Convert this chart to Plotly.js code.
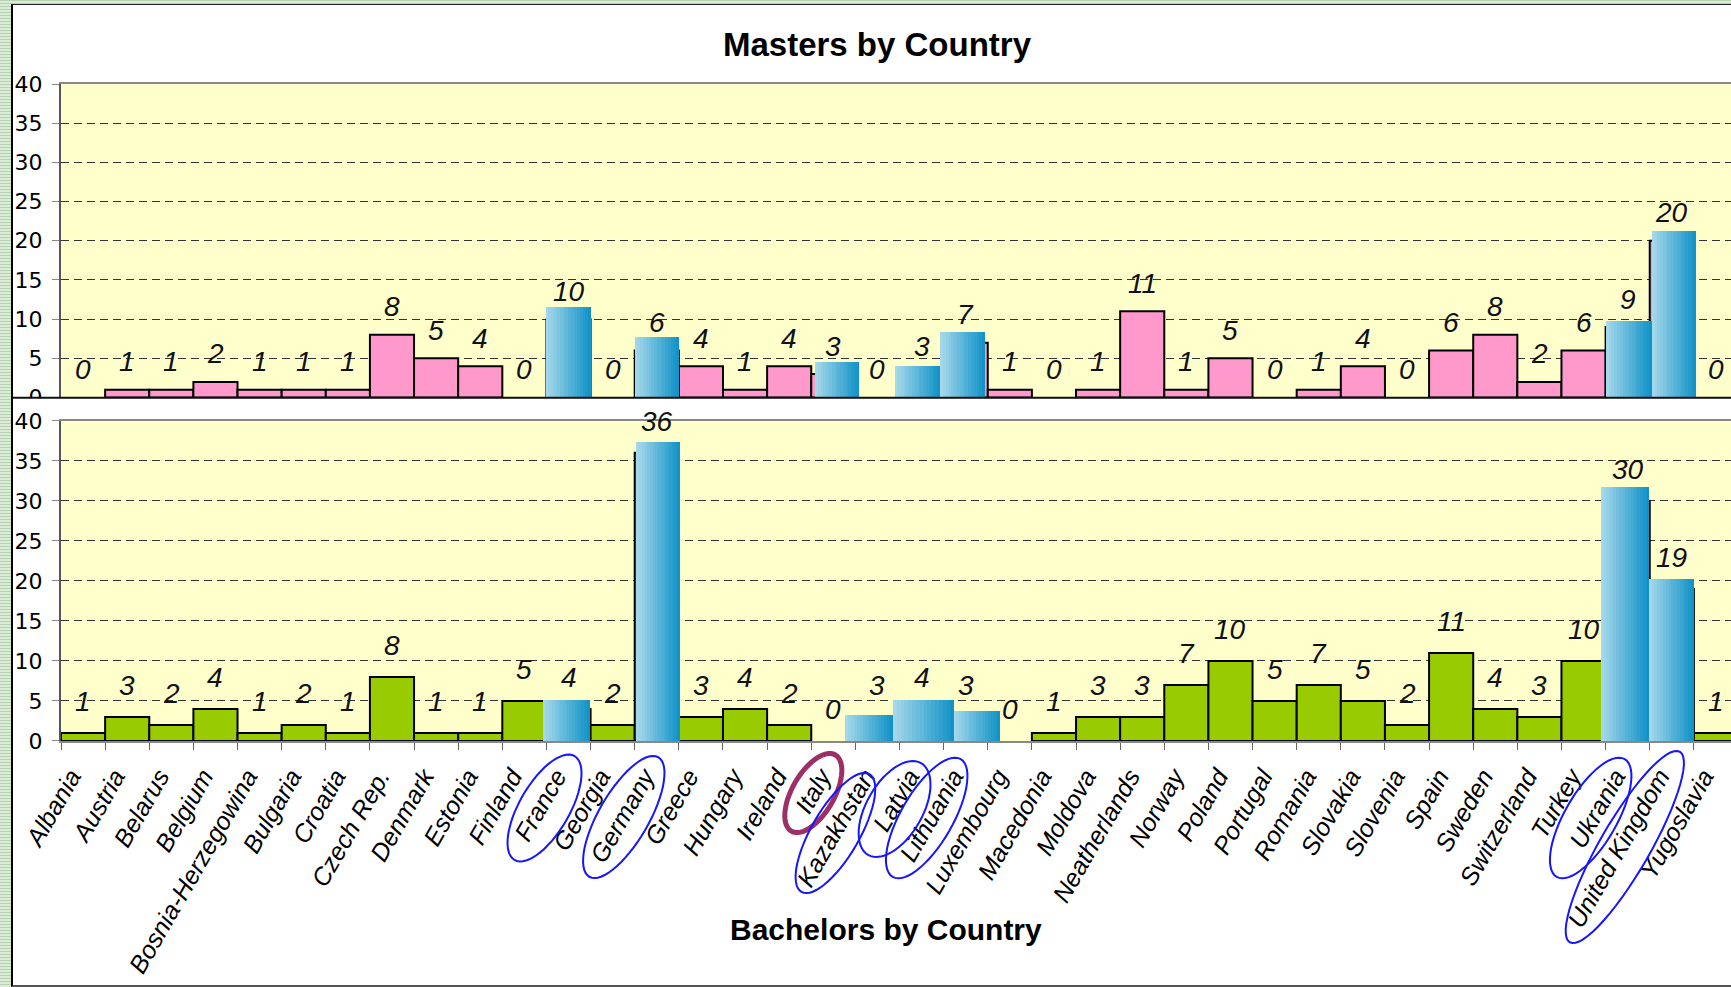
<!DOCTYPE html>
<html><head><meta charset="utf-8">
<script src="https://cdn.plot.ly/plotly-3.0.1.min.js"></script>
<style>
html,body{margin:0;padding:0;width:1731px;height:987px;overflow:hidden;}
body{background:repeating-linear-gradient(to bottom,#b6d3b1 0px,#b6d3b1 1px,#dcebd8 1px,#dcebd8 3px);}
#frame{position:absolute;left:11px;top:4px;width:1730px;height:980px;background:#fff;border-left:2px solid #000;border-top:1px solid #222;border-bottom:2px solid #555;}
#chart{position:absolute;left:0;top:0;width:1760px;height:987px;}
</style></head><body>
<div id="frame"></div><div id="chart"></div>
<script>
// ---------- data ----------
const countries = ['Albania','Austria','Belarus','Belgium','Bosnia-Herzegowina','Bulgaria','Croatia','Czech Rep.','Denmark','Estonia','Finland','France','Georgia','Germany','Greece','Hungary','Ireland','Italy','Kazakhstan','Latvia','Lithuania','Luxembourg','Macedonia','Moldova','Neatherlands','Norway','Poland','Portugal','Romania','Slovakia','Slovenia','Spain','Sweden','Switzerland','Turkey','Ukrania','United Kingdom','Yugoslavia'];
const masters   = [0,1,1,2,1,1,1,8,5,4,0,10,0,6,4,1,4,3,0,3,7,1,0,1,11,1,5,0,1,4,0,6,8,2,6,9,20,0];
const bachelors = [1,3,2,4,1,2,1,8,1,1,5,4,2,36,3,4,2,0,3,4,3,0,1,3,3,7,10,5,7,5,2,11,4,3,10,30,19,1];
// blue highlight blocks pasted over some bars (their visible heights)
const mastersHighlightCountries = ['France','Germany','Italy','Latvia','Lithuania','Ukrania','United Kingdom'];
const mastersHighlightHeights   = [11.5,7.7,4.5,4.0,8.3,9.8,21.3];
const bachelorsHighlightCountries = ['France','Germany','Kazakhstan','Latvia','Lithuania','Ukrania','United Kingdom'];
const bachelorsHighlightHeights   = [5.1,37.3,3.3,5.1,3.8,31.7,20.3];
const yTickVals = [0,5,10,15,20,25,30,35,40];
const circledCountries = ['France','Germany','Italy','Kazakhstan','Latvia','Lithuania','Ukrania','United Kingdom'];
const topTitle = 'Masters by Country';
const bottomTitle = 'Bachelors by Country';

// ---------- styles ----------
const overlayPlacement = {
  masters:   {'France':[-0.52,1.03],'Germany':[-0.5,1.0],'Italy':[-0.41,1.0],'Latvia':[-0.6,1.02],'Lithuania':[-0.58,1.02],'Ukrania':[-0.5,1.05],'United Kingdom':[-0.45,1.0]},
  bachelors: {'France':[-0.58,1.06],'Germany':[-0.46,0.98],'Kazakhstan':[-0.74,1.09],'Latvia':[-0.65,1.39],'Lithuania':[-0.29,1.06],'Ukrania':[-0.61,1.1],'United Kingdom':[-0.52,1.02]}
};
const ellipseStyle = {
  'France':        {dx:-24, dy:67,  a:60,  b:25, color:'#1515ff', w:2},
  'Germany':       {dx:-33, dy:76,  a:69,  b:25, color:'#1515ff', w:2},
  'Italy':         {dx:-20, dy:52,  a:44,  b:21, color:'#9c2f66', w:5},
  'Kazakhstan':    {dx:-42, dy:92,  a:68,  b:24, color:'#1515ff', w:2},
  'Latvia':        {dx:-27, dy:68,  a:53,  b:28, color:'#1515ff', w:2},
  'Lithuania':     {dx:-39, dy:77,  a:68,  b:26, color:'#1515ff', w:2},
  'Ukrania':       {dx:-37, dy:77,  a:68,  b:26, color:'#1515ff', w:2},
  'United Kingdom':{dx:-47, dy:106, a:110, b:25, color:'#1515ff', w:2}
};
const GRAD_N = 16, gradL = [168,218,236], gradR = [14,145,198];
const labelFont = {family:'Liberation Sans, Arial, sans-serif', size:28, style:'italic', color:'#111'};
const W = 1760, H = 987;
const mL = 61, catW = 44.14, mT = 84, mB = 245.7;
const plotR = mL + countries.length*catW;
const plotH = H - mT - mB;
const py = px => (H - mB - px)/plotH; // page pixel y -> paper fraction

// ---------- traces ----------
const traces = [];
traces.push({type:'bar', x:countries, y:masters, xaxis:'x', yaxis:'y', width:1, offset:-0.5,
  marker:{color:'#ff99cc', line:{color:'#000', width:masters.map(v=>v>0?2:0)}}, hoverinfo:'skip', showlegend:false});
traces.push({type:'bar', x:countries, y:bachelors, xaxis:'x2', yaxis:'y2', width:1, offset:-0.5,
  marker:{color:'#99cc00', line:{color:'#000', width:bachelors.map(v=>v>0?2:0)}}, hoverinfo:'skip', showlegend:false});

function gradientBars(names, heights, place, xa, ya){
  for(let i=0;i<GRAD_N;i++){
    const f=(i+0.5)/GRAD_N;
    const c=gradL.map((v,k)=>Math.round(v+(gradR[k]-v)*f));
    traces.push({type:'bar', x:names, y:heights, xaxis:xa, yaxis:ya,
      offset:names.map(n=>place[n][0]+place[n][1]*i/GRAD_N),
      width:names.map(n=>place[n][1]*(GRAD_N-i)/GRAD_N),
      marker:{color:`rgb(${c[0]},${c[1]},${c[2]})`, line:{width:0}}, hoverinfo:'skip', showlegend:false});
  }
}
gradientBars(mastersHighlightCountries, mastersHighlightHeights, overlayPlacement.masters, 'x', 'y');
gradientBars(bachelorsHighlightCountries, bachelorsHighlightHeights, overlayPlacement.bachelors, 'x2', 'y2');

// ---------- annotations ----------
const annotations = [];
countries.forEach((c,i)=>{
  annotations.push({xref:'x', yref:'y', x:c, y:masters[i], text:String(masters[i]), showarrow:false, yshift:28, font:labelFont});
  annotations.push({xref:'x2', yref:'y2', x:c, y:bachelors[i], text:String(bachelors[i]), showarrow:false, yshift:31, font:labelFont});
});
annotations.push({xref:'paper', yref:'paper', x:(886-mL)/(plotR-mL), y:py(930), xanchor:'center', yanchor:'middle',
  text:bottomTitle, showarrow:false, font:{family:'Liberation Sans, Arial, sans-serif', size:30, weight:700, color:'#000'}});

// ---------- shapes ----------
const shapes = [];
shapes.push({type:'rect', xref:'paper', yref:'paper', x0:(13-mL)/(plotR-mL), x1:1.05, y0:py(407), y1:py(398.5), fillcolor:'#fff', line:{width:0}, layer:'above'});
shapes.push({type:'line', xref:'paper', yref:'paper', x0:(13-mL)/(plotR-mL), x1:1.05, y0:py(398), y1:py(398), line:{color:'#111', width:2}, layer:'above'});
circledCountries.forEach(n=>{
  const s=ellipseStyle[n], th=60*Math.PI/180, pts=[];
  for(let k=0;k<=60;k++){
    const t=2*Math.PI*k/60, ex=s.a*Math.cos(t), ey=s.b*Math.sin(t);
    const X=s.dx+ex*Math.cos(th)-ey*Math.sin(th);
    const Y=-s.dy+ex*Math.sin(th)+ey*Math.cos(th);
    pts.push(X.toFixed(1)+','+Y.toFixed(1));
  }
  const idx=countries.indexOf(n);
  shapes.push({type:'path', xref:'paper', yref:'paper', xsizemode:'pixel', ysizemode:'pixel',
    xanchor:(idx+0.5)/countries.length, yanchor:0, path:'M'+pts.join('L')+'Z',
    line:{color:s.color, width:s.w}, layer:'above'});
});

// ---------- axes ----------
const yCommon = {range:[0,40], tickvals:yTickVals, showgrid:true, gridcolor:'#333', griddash:'8px,5px', gridwidth:1,
  zeroline:false, showline:true, linecolor:'#555', linewidth:2, ticks:'outside', ticklen:7, tickcolor:'#888', ticklabelstandoff:5,
  tickfont:{family:'DejaVu Sans, Liberation Sans, sans-serif', size:22, color:'#000'}, fixedrange:true};
const layout = {
  width:W, height:H, margin:{l:mL, r:W-plotR, t:mT, b:mB, pad:0},
  paper_bgcolor:'rgba(0,0,0,0)', plot_bgcolor:'#ffffcc',
  barmode:'overlay', bargap:0, showlegend:false, hovermode:false,
  title:{text:topTitle, x:877/W, xanchor:'center', xref:'container', y:1-44/H, yanchor:'middle', yref:'container',
    font:{family:'Liberation Sans, Arial, sans-serif', size:33, weight:700, color:'#000'}},
  xaxis:{type:'category', categoryorder:'array', categoryarray:countries, range:[-0.5,countries.length-0.5],
    anchor:'y', showticklabels:false, ticks:'', showgrid:false, showline:true, mirror:true, linecolor:'#888', linewidth:2, fixedrange:true},
  yaxis:Object.assign({}, yCommon, {domain:[py(397.7),1], anchor:'x'}),
  xaxis2:{type:'category', categoryorder:'array', categoryarray:countries, range:[-0.5,countries.length-0.5],
    anchor:'y2', showgrid:false, showline:true, mirror:true, linecolor:'#888', linewidth:2,
    ticks:'outside', tickson:'boundaries', ticklen:7, tickcolor:'#666', tickangle:-60, ticklabelstandoff:9, ticklabelshift:-12,
    tickfont:{family:'Liberation Sans, Arial, sans-serif', size:25, style:'italic', color:'#000'}, fixedrange:true},
  yaxis2:Object.assign({}, yCommon, {domain:[0,py(421)], anchor:'x2'}),
  annotations:annotations, shapes:shapes
};
Plotly.newPlot('chart', traces, layout, {displayModeBar:false, staticPlot:true});
</script>
</body></html>
